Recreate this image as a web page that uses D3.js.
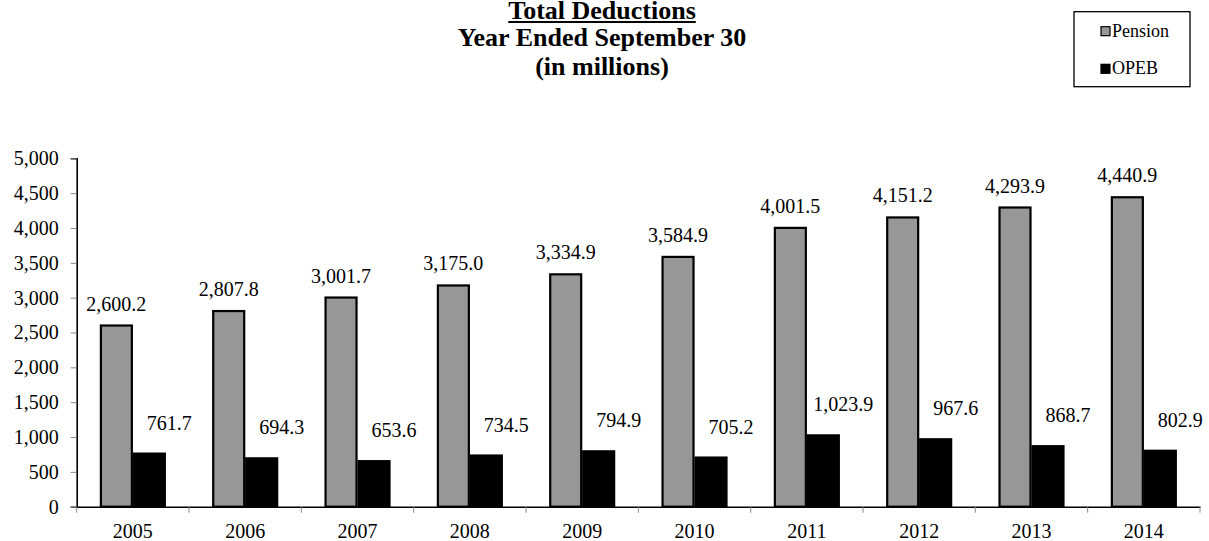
<!DOCTYPE html>
<html>
<head>
<meta charset="utf-8">
<script src="https://cdn.jsdelivr.net/npm/d3@7"></script>
<style>
  html, body { margin: 0; padding: 0; background: #fff; }
  svg { display: block; font-family: "Liberation Serif", "Times New Roman", serif; }
</style>
</head>
<body>
<svg id="chart" width="1209" height="541"></svg>
<script>
const years = ["2005","2006","2007","2008","2009","2010","2011","2012","2013","2014"];
const pension = [2600.2, 2807.8, 3001.7, 3175.0, 3334.9, 3584.9, 4001.5, 4151.2, 4293.9, 4440.9];
const opeb = [761.7, 694.3, 653.6, 734.5, 794.9, 705.2, 1023.9, 967.6, 868.7, 802.9];
const seriesNames = ["Pension", "OPEB"];
const yTicks = [0, 500, 1000, 1500, 2000, 2500, 3000, 3500, 4000, 4500, 5000];
const titleLines = ["Total Deductions", "Year Ended September 30", "(in millions)"];

(function () {
const colors = { Pension: "#979797", OPEB: "#000000" };
const seriesData = { Pension: pension, OPEB: opeb };

const svg = d3.select("#chart");
const mLeft = 76.7, mRight = 1200, mTop = 158.3, mBottom = 506.7;

const x = d3.scaleBand().domain(years).range([mLeft, mRight]).paddingInner(0).paddingOuter(0);
const x1 = d3.scaleBand().domain(seriesNames).range([0, x.bandwidth()]).paddingInner(0).paddingOuter(0.703);
const y = d3.scaleLinear().domain([0, 5000]).range([mBottom, mTop]);
const fmt = d3.format(",.1f");

// Bars
seriesNames.forEach(s => {
  svg.append("g").selectAll("rect")
    .data(years.map((yr, i) => ({ yr, v: seriesData[s][i] })))
    .join("rect")
    .attr("x", d => x(d.yr) + x1(s) + 1)
    .attr("y", d => y(d.v))
    .attr("width", x1.bandwidth() - 2)
    .attr("height", d => y(0) - y(d.v))
    .attr("fill", colors[s])
    .attr("stroke", "#000")
    .attr("stroke-width", 2.2);
});

// Value labels
svg.append("g").selectAll("text")
  .data(years.map((yr, i) => ({ yr, v: pension[i] })))
  .join("text")
  .attr("x", d => x(d.yr) + x1("Pension") + x1.bandwidth() / 2)
  .attr("y", d => y(d.v) - 15)
  .attr("text-anchor", "middle")
  .attr("font-size", 20)
  .text(d => fmt(d.v));

svg.append("g").selectAll("text")
  .data(years.map((yr, i) => ({ yr, v: opeb[i] })))
  .join("text")
  .attr("x", d => x(d.yr) + x1("OPEB") + x1.bandwidth() / 2 + 20)
  .attr("y", d => y(d.v) - 24)
  .attr("text-anchor", "middle")
  .attr("font-size", 20)
  .text(d => fmt(d.v));

// Y axis
const yAxis = svg.append("g").attr("transform", `translate(${mLeft},0)`)
  .call(d3.axisLeft(y).tickValues(yTicks).tickFormat(d3.format(",")).tickSize(6).tickPadding(12));
yAxis.select(".domain").attr("stroke", "#000").attr("stroke-width", 1.6);
yAxis.selectAll(".tick line").attr("stroke", "#888");
yAxis.selectAll("text").attr("font-size", 20).attr("fill", "#000")
  .attr("font-family", "Liberation Serif, Times New Roman, serif");

// X axis
const xAxis = svg.append("g").attr("transform", `translate(0,${mBottom})`)
  .call(d3.axisBottom(x).tickSize(0).tickPadding(17));
xAxis.select(".domain").attr("stroke", "#000").attr("stroke-width", 1.6);
xAxis.selectAll("text").attr("font-size", 20).attr("fill", "#000")
  .attr("font-family", "Liberation Serif, Times New Roman, serif");
const bounds = years.map(yr => x(yr)).concat([x(years[years.length - 1]) + x.bandwidth()]);
svg.append("g").selectAll("line").data(bounds).join("line")
  .attr("x1", d => d).attr("x2", d => d)
  .attr("y1", mBottom).attr("y2", mBottom + 6)
  .attr("stroke", "#888").attr("stroke-width", 1);

// Title
const tg = svg.append("g").attr("font-weight", "bold").attr("font-size", 26).attr("text-anchor", "middle");
const titleY = [19, 45.5, 75];
titleLines.forEach((t, i) => {
  tg.append("text").attr("x", 602).attr("y", titleY[i]).text(t);
});
const firstLen = tg.select("text").node().getComputedTextLength();
svg.append("line")
  .attr("x1", 602 - firstLen / 2).attr("x2", 602 + firstLen / 2)
  .attr("y1", 22).attr("y2", 22)
  .attr("stroke", "#000").attr("stroke-width", 2);

// Legend
const lg = svg.append("g");
lg.append("rect").attr("x", 1074).attr("y", 11.7).attr("width", 116).attr("height", 75)
  .attr("fill", "#fff").attr("stroke", "#000").attr("stroke-width", 1.3);
seriesNames.forEach((s, i) => {
  const cy = 36.7 + i * 37.6;
  lg.append("rect").attr("x", 1101).attr("y", cy - 10).attr("width", 9).attr("height", 9)
    .attr("fill", colors[s]).attr("stroke", "#000").attr("stroke-width", 1.2);
  lg.append("text").attr("x", 1112).attr("y", cy).attr("font-size", 18).text(s);
});
})();
</script>
</body>
</html>
